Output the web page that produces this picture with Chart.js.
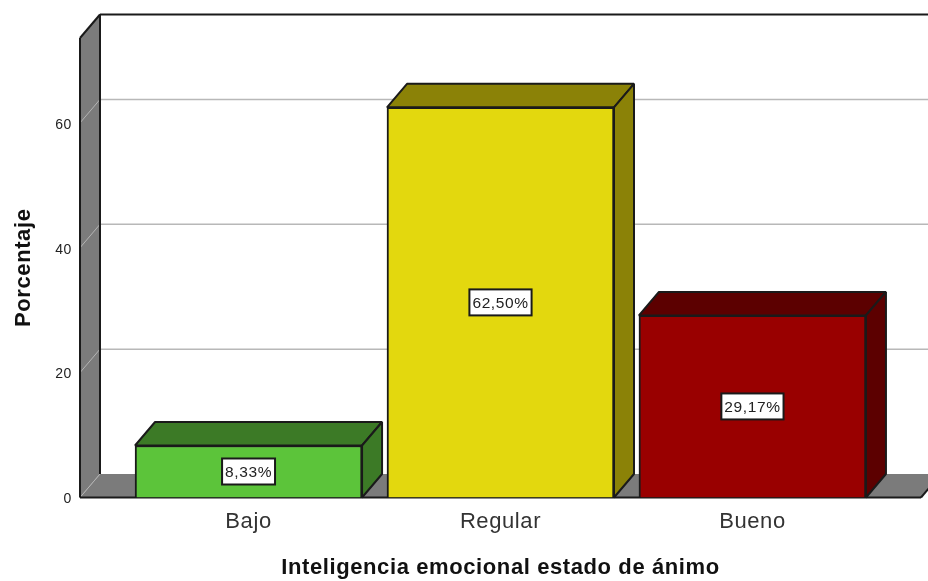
<!DOCTYPE html>
<html lang="es">
<head>
<meta charset="UTF-8" />
<title>Inteligencia emocional estado de ánimo</title>
<script src="https://cdn.jsdelivr.net/npm/chart.js"></script>
<style>
  html, body { margin: 0; padding: 0; background: #fff; overflow: hidden; }
  #wrap { width: 928px; height: 581px; }
</style>
</head>
<body>
<div id="wrap"><canvas id="chart" width="928" height="581"></canvas></div>
<script>
const categories = ['Bajo', 'Regular', 'Bueno'];
const percentages = [8.33, 62.5, 29.17];
const yTicks = [0, 20, 40, 60];

const frontColors = ['#5cc43a', '#e3d80e', '#990000'];
const topColors = ['#3c7a26', '#8b8207', '#5c0000'];
const sideColors = ['#3c7a26', '#8b8207', '#5c0000'];

// depth of the fake 3D box, in px
const DX = 20;
const DY = -23.5;
const FONT = '"Liberation Sans", Arial, sans-serif';
const EDGE = '#1a1a1a';

function poly(ctx, pts, fill, stroke, lw) {
  ctx.beginPath();
  pts.forEach((p, i) => i ? ctx.lineTo(p[0], p[1]) : ctx.moveTo(p[0], p[1]));
  ctx.closePath();
  if (fill) { ctx.fillStyle = fill; ctx.fill(); }
  if (stroke) { ctx.strokeStyle = stroke; ctx.lineWidth = lw || 2; ctx.lineJoin = 'bevel'; ctx.stroke(); }
}

function line(ctx, x1, y1, x2, y2, color, lw) {
  ctx.beginPath();
  ctx.moveTo(x1, y1);
  ctx.lineTo(x2, y2);
  ctx.strokeStyle = color;
  ctx.lineWidth = lw;
  ctx.stroke();
}

// the original text is a bit wider than Liberation Sans, so space it out
const textSpacing = {
  id: 'textSpacing',
  beforeDraw(chart) {
    chart.ctx.letterSpacing = '0.6px';
  }
};

const walls = {
  id: 'walls',
  beforeDatasetsDraw(chart) {
    const { ctx, chartArea: a, scales: { y } } = chart;
    const gray = '#7b7b7b';
    ctx.save();
    // floor and left wall
    poly(ctx, [[a.left, a.bottom], [a.left + DX, a.bottom + DY], [a.right + DX, a.bottom + DY], [a.right, a.bottom]], gray);
    poly(ctx, [[a.left, a.top], [a.left + DX, a.top + DY], [a.left + DX, a.bottom + DY], [a.left, a.bottom]], gray);
    // grid lines run along the wall and the back
    yTicks.forEach(t => {
      const py = y.getPixelForValue(t);
      line(ctx, a.left, py, a.left + DX, py + DY, '#b4b4b4', 1);
      if (t > 0) line(ctx, a.left + DX, py + DY, 928, py + DY, '#b8b8b8', 1.5);
    });
    // outlines
    line(ctx, a.left, a.top, a.left, a.bottom, EDGE, 2);
    line(ctx, a.left, a.top, a.left + DX, a.top + DY, EDGE, 2);
    line(ctx, a.left + DX, a.top + DY, 928, a.top + DY, EDGE, 2);
    line(ctx, a.left + DX, a.top + DY, a.left + DX, a.bottom + DY, EDGE, 2);
    line(ctx, a.left, a.bottom, a.right, a.bottom, EDGE, 2);
    line(ctx, a.right, a.bottom, a.right + 8, a.bottom - 9.4, EDGE, 2);
    // box tops and sides
    chart.getDatasetMeta(0).data.forEach((bar, i) => {
      const p = bar.getProps(['x', 'y', 'base', 'width']);
      const l = p.x - p.width / 2;
      const r = p.x + p.width / 2;
      poly(ctx, [[l, p.y], [l + DX, p.y + DY], [r + DX, p.y + DY], [r, p.y]], topColors[i], EDGE);
      poly(ctx, [[r, p.y], [r + DX, p.y + DY], [r + DX, p.base + DY], [r, p.base]], sideColors[i], EDGE);
    });
    ctx.restore();
  }
};

const valueLabels = {
  id: 'valueLabels',
  afterDatasetsDraw(chart) {
    const { ctx } = chart;
    ctx.save();
    chart.getDatasetMeta(0).data.forEach((bar, i) => {
      const p = bar.getProps(['x', 'y', 'base']);
      const cy = (p.y + p.base) / 2;
      const text = percentages[i].toFixed(2).replace('.', ',') + '%';
      ctx.font = '15.5px ' + FONT;
      const w = ctx.measureText(text).width + 6;
      ctx.fillStyle = '#fff';
      ctx.strokeStyle = EDGE;
      ctx.lineWidth = 2;
      ctx.fillRect(p.x - w / 2, cy - 13, w, 26);
      ctx.strokeRect(p.x - w / 2, cy - 13, w, 26);
      ctx.fillStyle = '#222';
      ctx.textAlign = 'center';
      ctx.textBaseline = 'middle';
      ctx.fillText(text, p.x, cy + 1);
    });
    ctx.restore();
  }
};

new Chart(document.getElementById('chart'), {
  type: 'bar',
  data: {
    datasets: [{
      data: percentages.map((v, i) => ({ x: i, y: v })),
      backgroundColor: frontColors,
      borderColor: EDGE,
      borderWidth: 2,
      barThickness: 227
    }]
  },
  plugins: [textSpacing, walls, valueLabels],
  options: {
    responsive: false,
    animation: false,
    layout: { padding: { top: 38, right: 7, left: 0, bottom: 0 } },
    plugins: { legend: { display: false }, tooltip: { enabled: false } },
    scales: {
      x: {
        type: 'linear',
        offset: false,
        min: -0.669,
        max: 2.669,
        grid: { display: false },
        border: { display: false },
        afterBuildTicks: s => { s.ticks = categories.map((_, i) => ({ value: i })); },
        afterFit: s => { s.height = 83.5; },
        ticks: {
          autoSkip: false,
          maxRotation: 0,
          padding: 3,
          color: '#333',
          font: { family: FONT, size: 22 },
          callback: v => categories[v]
        },
        title: {
          display: true,
          text: 'Inteligencia emocional estado de ánimo',
          color: '#111',
          font: { family: FONT, size: 22, weight: 'bold' },
          padding: { top: 0, bottom: 0 }
        }
      },
      y: {
        min: 0,
        max: 73.6,
        grid: { display: false },
        border: { display: false },
        afterBuildTicks: s => { s.ticks = yTicks.map(v => ({ value: v })); },
        afterFit: s => { s.width = 80; },
        ticks: {
          padding: 0,
          labelOffset: 2,
          color: '#222',
          font: { family: FONT, size: 14 }
        },
        title: {
          display: true,
          text: 'Porcentaje',
          color: '#111',
          font: { family: FONT, size: 22, weight: 'bold' },
          padding: { top: 11, bottom: 0 }
        }
      }
    }
  }
});
</script>
</body>
</html>
